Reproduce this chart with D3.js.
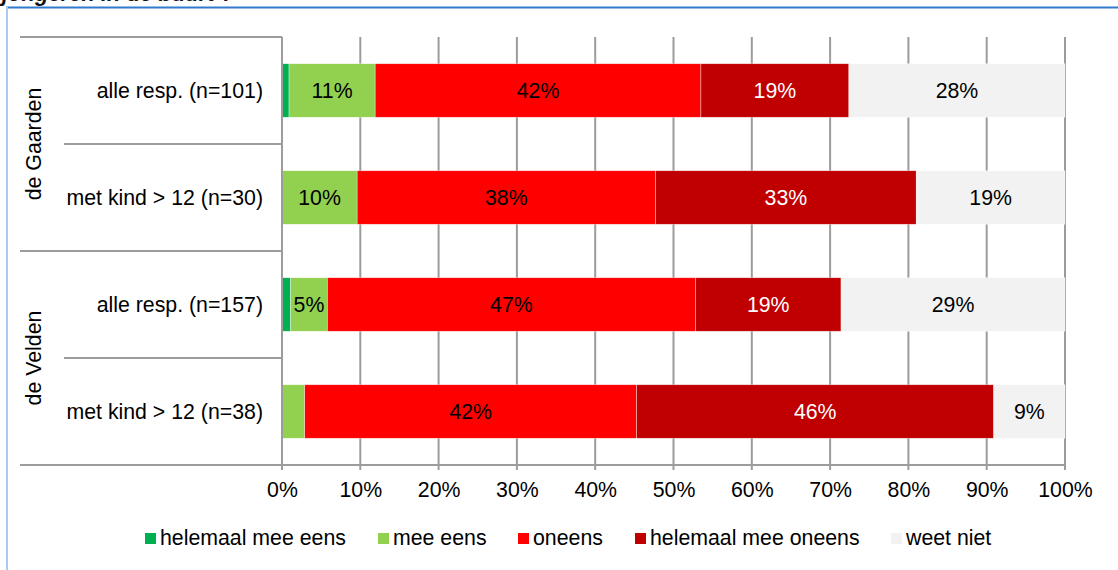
<!DOCTYPE html>
<html>
<head>
<meta charset="utf-8">
<script src="https://cdn.jsdelivr.net/npm/d3@7.9.0/dist/d3.min.js"></script>
<style>
  body { margin: 0; background: #fff; }
  svg { display: block; font-family: "Liberation Sans", Arial, sans-serif; }
</style>
</head>
<body>
<svg id="chart" width="1118" height="570"></svg>
<script>
// Data (percentages per row)
const groups = ['de Gaarden', 'de Velden'];
const rows = ['alle resp. (n=101)', 'met kind > 12 (n=30)', 'alle resp. (n=157)', 'met kind > 12 (n=38)'];
const rowGroup = [0, 0, 1, 1];
const categories = ['helemaal mee eens', 'mee eens', 'oneens', 'helemaal mee oneens', 'weet niet'];
const helemaalMeeEens = [0.9, 0, 1.1, 0];
const meeEens = [11.0, 9.6, 4.7, 2.9];
const oneens = [41.6, 38.1, 47.0, 42.4];
const helemaalMeeOneens = [18.9, 33.3, 18.6, 45.6];
const weetNiet = [27.6, 19.0, 28.6, 9.1];
const xTicks = [0, 10, 20, 30, 40, 50, 60, 70, 80, 90, 100];

const colors = ['#00B050', '#92D050', '#FF0000', '#C00000', '#F2F2F2'];
const labelColors = ['#000', '#000', '#000', '#fff', '#000'];
const fs = 21.3;

// build table for d3.stack
const series = [helemaalMeeEens, meeEens, oneens, helemaalMeeOneens, weetNiet];
const table = rows.map((r, i) => {
  let o = { row: r, idx: i };
  categories.forEach((c, k) => { o[c] = series[k][i]; });
  return o;
});

const svg = d3.select('#chart');

// frame + cut title
svg.append('text')
  .attr('x', 2).attr('y', 1)
  .attr('font-size', 22).attr('font-style', 'italic').attr('font-weight', 'bold')
  .attr('fill', '#111')
  .text('jongeren in de buurt ?');
svg.append('line').attr('x1', 6).attr('x2', 1118).attr('y1', 7.5).attr('y2', 7.5)
  .attr('stroke', '#2E7BCF').attr('stroke-width', 2);
svg.append('line').attr('x1', 7).attr('x2', 7).attr('y1', 7).attr('y2', 570)
  .attr('stroke', '#A9CBEF').attr('stroke-width', 2);

const plotLeft = 282, plotRight = 1065, plotTop = 37, plotBottom = 465;

const x = d3.scaleLinear().domain([0, 100]).range([plotLeft, plotRight]);
const y = d3.scaleBand().domain(d3.range(rows.length)).range([plotTop, plotBottom])
  .paddingInner(0.5).paddingOuter(0.25);

// vertical gridlines
svg.append('g').selectAll('line').data(xTicks).join('line')
  .attr('x1', d => x(d)).attr('x2', d => x(d))
  .attr('y1', plotTop).attr('y2', plotBottom + 5)
  .attr('stroke', '#9c9c9c').attr('stroke-width', 2);

// stacked bars
const stack = d3.stack().keys(categories);
const stacked = stack(table);

const layers = svg.append('g').selectAll('g').data(stacked).join('g')
  .attr('fill', (d, i) => colors[i]);

layers.selectAll('rect').data(d => d).join('rect')
  .attr('x', d => x(d[0]))
  .attr('y', d => y(d.data.idx))
  .attr('width', d => x(d[1]) - x(d[0]))
  .attr('height', y.bandwidth())
  .attr('stroke', '#fff').attr('stroke-width', 0.6).attr('stroke-opacity', 0.6);

// data labels
stacked.forEach((layer, k) => {
  svg.append('g').selectAll('text').data(layer.filter(d => d[1] - d[0] >= 4.5)).join('text')
    .attr('x', d => x((d[0] + d[1]) / 2))
    .attr('y', d => y(d.data.idx) + y.bandwidth() / 2 + 7.5)
    .attr('text-anchor', 'middle')
    .attr('font-size', fs)
    .attr('fill', labelColors[k])
    .text(d => Math.round(d[1] - d[0]) + '%');
});

// category axis lines
const step = y.step();
const sepY = d3.range(rows.length + 1).map(i => plotTop + i * step);
svg.append('g').selectAll('line').data(sepY).join('line')
  .attr('x1', (d, i) => (i % 2 === 0 ? 20 : 64))
  .attr('x2', plotLeft)
  .attr('y1', d => d).attr('y2', d => d)
  .attr('stroke', '#9c9c9c').attr('stroke-width', 2);
svg.append('line').attr('x1', 20).attr('x2', plotRight).attr('y1', plotBottom).attr('y2', plotBottom)
  .attr('stroke', '#9c9c9c').attr('stroke-width', 2);
svg.append('line').attr('x1', plotLeft).attr('x2', plotLeft).attr('y1', plotTop).attr('y2', plotBottom + 5)
  .attr('stroke', '#9c9c9c').attr('stroke-width', 2);

// row labels
svg.append('g').selectAll('text').data(rows).join('text')
  .attr('x', 263)
  .attr('y', (d, i) => y(i) + y.bandwidth() / 2 + 7.5)
  .attr('text-anchor', 'end')
  .attr('font-size', fs)
  .attr('fill', '#000')
  .text(d => d);

// group labels (rotated)
groups.forEach((g, gi) => {
  const idx = rowGroup.map((v, i) => (v === gi ? i : -1)).filter(i => i >= 0);
  const cy = (y(idx[0]) + y(idx[idx.length - 1]) + y.bandwidth()) / 2;
  svg.append('text')
    .attr('transform', `translate(41,${cy}) rotate(-90)`)
    .attr('text-anchor', 'middle')
    .attr('font-size', fs)
    .attr('fill', '#000')
    .text(g);
});

// x axis tick labels
const xAxis = d3.axisBottom(x).tickValues(xTicks).tickFormat(d => d + '%').tickSize(0).tickPadding(0);
const ax = svg.append('g').attr('transform', `translate(0,${plotBottom})`).call(xAxis);
ax.select('.domain').remove();
ax.selectAll('text')
  .attr('y', 32).attr('dy', null)
  .attr('font-size', fs)
  .attr('font-family', '"Liberation Sans", Arial, sans-serif')
  .attr('fill', '#000');

// legend
const legendX = [145, 378, 518, 635, 891];
const legend = svg.append('g').selectAll('g').data(categories).join('g')
  .attr('transform', (d, i) => `translate(${legendX[i]},533)`);
legend.append('rect').attr('width', 11).attr('height', 11).attr('fill', (d, i) => colors[i]);
legend.append('text').attr('x', 15).attr('y', 12)
  .attr('font-size', fs).attr('fill', '#000')
  .text(d => d);
</script>
</body>
</html>
